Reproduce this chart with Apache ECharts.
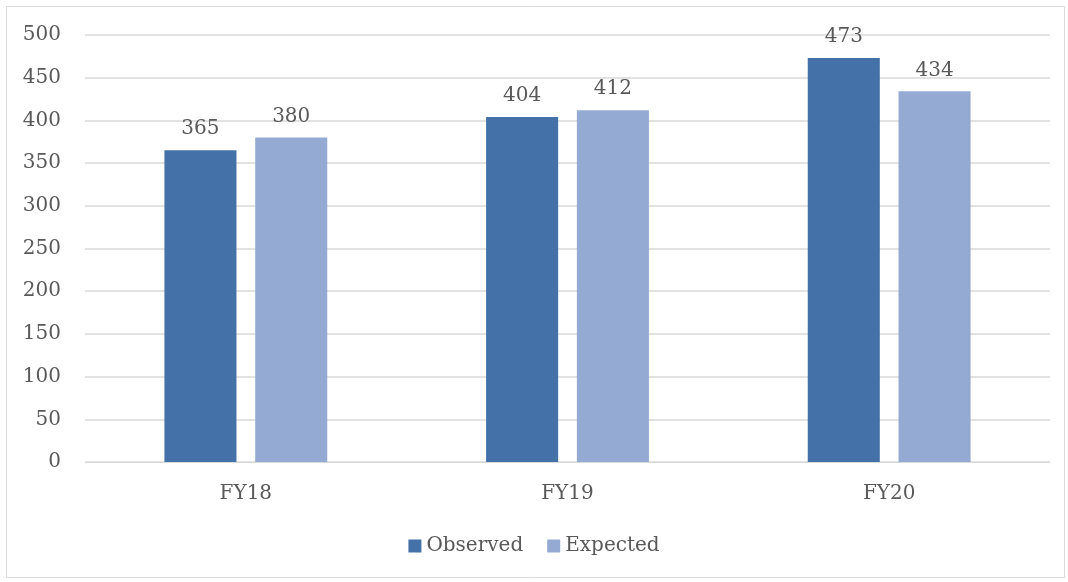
<!DOCTYPE html>
<html>
<head>
<meta charset="utf-8">
<script src="https://cdn.jsdelivr.net/npm/echarts@6/dist/echarts.min.js"></script>
<style>
html, body { margin: 0; padding: 0; background: #fff; }
#chart { width: 1068px; height: 582px; }
</style>
</head>
<body>
<div id="chart"></div>
<script>
// categories and values
var categories = ['FY18', 'FY19', 'FY20'];
var observed = [365, 404, 473];
var expected = [380, 412, 434];

var font = '"DejaVu Serif", "Liberation Serif", serif';
var textColor = '#595959';

var chart = echarts.init(document.getElementById('chart'));
chart.setOption({
    animation: false,
    textStyle: { fontFamily: font },
    graphic: [{
        type: 'rect',
        shape: { x: 6.5, y: 6.5, width: 1058, height: 571 },
        style: { fill: 'none', stroke: '#d9d9d9', lineWidth: 1 },
        silent: true
    }],
    grid: { left: 85, right: 18, top: 35, bottom: 120 },
    legend: {
        bottom: 21,
        itemWidth: 13,
        itemHeight: 13,
        itemGap: 24,
        icon: 'rect',
        textStyle: { color: textColor, fontSize: 20, fontFamily: font }
    },
    xAxis: {
        type: 'category',
        data: categories,
        axisTick: { show: false },
        axisLine: { lineStyle: { color: '#d9d9d9' } },
        axisLabel: { color: textColor, fontSize: 20, margin: 22 }
    },
    yAxis: {
        type: 'value',
        min: 0,
        max: 500,
        interval: 50,
        axisLine: { show: false },
        axisTick: { show: false },
        splitLine: { lineStyle: { color: '#d9d9d9', width: 1.5 } },
        axisLabel: { color: textColor, fontSize: 20, margin: 24 }
    },
    series: [{
        name: 'Observed',
        type: 'bar',
        data: observed,
        barWidth: '22.4%',
        barGap: '26%',
        itemStyle: { color: '#4472a8' },
        label: { show: true, position: 'top', color: textColor, fontSize: 20, distance: 11 }
    }, {
        name: 'Expected',
        type: 'bar',
        data: expected,
        barWidth: '22.4%',
        itemStyle: { color: '#95aad3' },
        label: { show: true, position: 'top', color: textColor, fontSize: 20, distance: 11 }
    }]
});
</script>
</body>
</html>
